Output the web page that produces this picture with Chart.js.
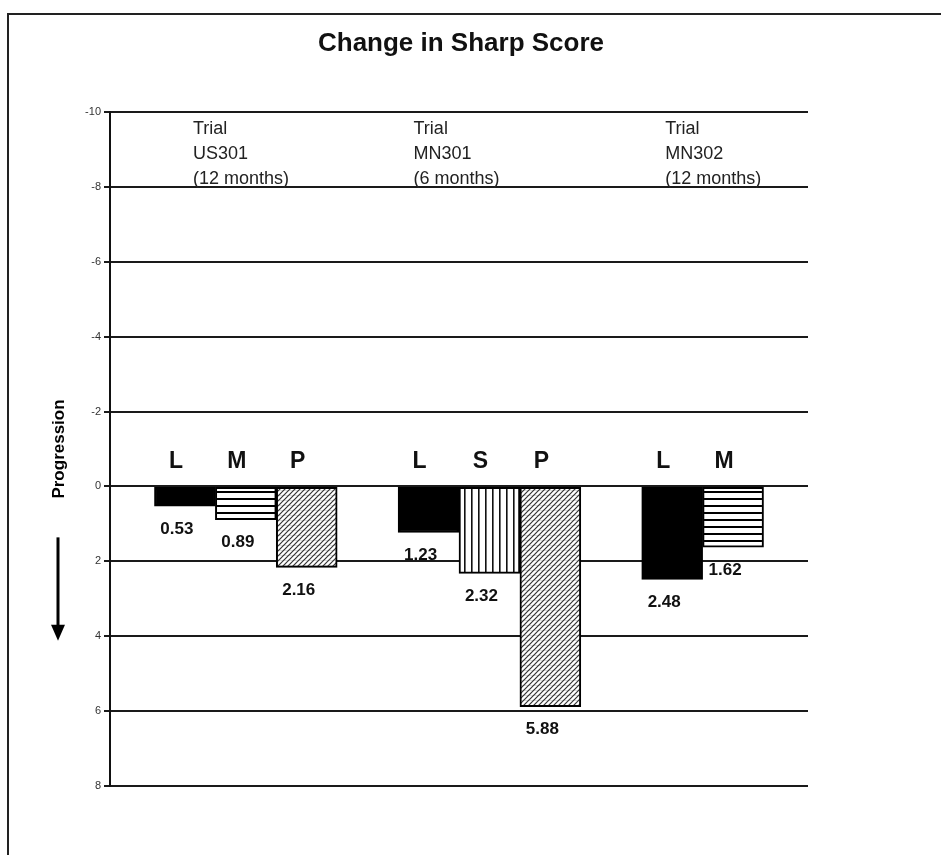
<!DOCTYPE html>
<html>
<head>
<meta charset="utf-8">
<script src="https://cdn.jsdelivr.net/npm/chart.js@4"></script>
<style>
  body { margin: 0; background: #fff; }
  #frame {
    position: absolute; left: 7px; top: 13px; width: 934px; height: 842px;
    border-top: 2px solid #222; border-left: 2px solid #222;
  }
  #wrap { position: relative; width: 902px; height: 840px; }
</style>
</head>
<body>
<div id="frame"><div id="wrap"><canvas id="chart"></canvas></div></div>
<script>
// data
const chartTitle = "Change in Sharp Score";
const barLabels = ["L", "M", "P", "", "L", "S", "P", "", "L", "M"];
const barValues = [0.53, 0.89, 2.16, null, 1.23, 2.32, 5.88, null, 2.48, 1.62];
const yTicks = [-10, -8, -6, -4, -2, 0, 2, 4, 6, 8];
const trialTitles = ["Trial", "Trial", "Trial"];
const trialCodes = ["US301", "MN301", "MN302"];
const trialDurations = ["(12 months)", "(6 months)", "(12 months)"];
const trialFirstSlot = [0, 4, 8];

const FONT = 'Arial, "Liberation Sans", sans-serif';

// fill patterns
function makePattern(size, draw) {
  const c = document.createElement("canvas");
  c.width = size; c.height = size;
  const g = c.getContext("2d");
  g.fillStyle = "#fff";
  g.fillRect(0, 0, size, size);
  draw(g, size);
  return g.createPattern(c, "repeat");
}

const fills = {
  L: "#000",
  M: makePattern(7, (g, s) => { g.fillStyle = "#000"; g.fillRect(0, 0, s, 2); }),
  S: makePattern(7, (g, s) => { g.fillStyle = "#111"; g.fillRect(0, 0, 1.6, s); }),
  P: makePattern(5, (g, s) => {
    g.fillStyle = "#ddd";
    g.fillRect(0, 0, s, 1);
    g.strokeStyle = "#333";
    g.lineWidth = 1.2;
    g.beginPath();
    g.moveTo(-1, s + 1); g.lineTo(s + 1, -1);
    g.moveTo(-1, 1); g.lineTo(1, -1);
    g.moveTo(s - 1, s + 1); g.lineTo(s + 1, s - 1);
    g.stroke();
  }),
};

const points = [];
const colors = [];
barValues.forEach((v, i) => {
  if (v === null) return;
  points.push({ x: i, y: v, label: barLabels[i] });
  colors.push(fills[barLabels[i]]);
});

// title, labels, trial notes, arrow
const annotate = {
  id: "annotate",
  afterDatasetsDraw(chart, args, opts) {
    const ctx = chart.ctx;
    const area = chart.chartArea;
    const xs = chart.scales.x;
    const ys = chart.scales.y;
    const zero = ys.getPixelForValue(0);
    const meta = chart.getDatasetMeta(0);
    ctx.save();
    ctx.fillStyle = "#111";
    ctx.textAlign = "center";
    ctx.textBaseline = "alphabetic";
    ctx.font = "bold 26px " + FONT;
    ctx.fillText(chartTitle, (area.left + area.right) / 2 + 2, 36);

    ctx.textBaseline = "middle";
    meta.data.forEach((bar, i) => {
      const p = points[i];
      ctx.font = "bold 23px " + FONT;
      ctx.fillText(p.label, bar.x - 9, zero - 25);
      ctx.font = "bold 17px " + FONT;
      ctx.fillText(p.y.toFixed(2), bar.x - 8, bar.y + 23);
    });

    // trial notes
    ctx.textAlign = "left";
    ctx.font = "18px " + FONT;
    ctx.fillStyle = "#222";
    trialFirstSlot.forEach((slot, g) => {
      const x = xs.getPixelForValue(slot) + opts.noteOffsets[g];
      ctx.fillText(trialTitles[g], x, area.top + 17);
      ctx.fillText(trialCodes[g], x, area.top + 42);
      ctx.fillText(trialDurations[g], x, area.top + 67);
    });

    // progression arrow
    const ax = 49;
    const y1 = ys.getPixelForValue(1.36);
    const y2 = ys.getPixelForValue(4.12);
    ctx.fillStyle = "#000";
    ctx.fillRect(ax - 1.5, y1, 3, y2 - y1 - 12);
    ctx.beginPath();
    ctx.moveTo(ax - 7, y2 - 16);
    ctx.lineTo(ax + 7, y2 - 16);
    ctx.lineTo(ax, y2);
    ctx.closePath();
    ctx.fill();
    ctx.restore();
  },
};

new Chart(document.getElementById("chart"), {
  type: "bar",
  data: {
    datasets: [
      {
        data: points,
        backgroundColor: colors,
        borderColor: "#000",
        borderWidth: 2,
        borderSkipped: false,
        barPercentage: 1,
        categoryPercentage: 1,
      },
    ],
  },
  options: {
    responsive: true,
    maintainAspectRatio: false,
    animation: false,
    layout: {
      padding: { top: 97, right: 103, bottom: 69, left: 0 },
    },
    scales: {
      x: {
        type: "linear",
        min: -1.23,
        max: 10.23,
        offset: false,
        display: false,
      },
      y: {
        reverse: true,
        min: yTicks[0],
        max: yTicks[yTicks.length - 1],
        afterBuildTicks: (scale) => {
          scale.ticks = yTicks.map((v) => ({ value: v }));
        },
        afterFit: (scale) => {
          scale.width = 101;
        },
        ticks: {
          color: "#333",
          font: { family: FONT, size: 11 },
          padding: 3,
        },
        grid: {
          color: "#1a1a1a",
          lineWidth: 2,
          tickLength: 6,
          tickColor: "#1a1a1a",
        },
        border: { display: true, color: "#111", width: 2 },
        title: {
          display: true,
          text: "Progression",
          color: "#000",
          font: { family: FONT, size: 17, weight: "bold" },
          padding: { top: 40, bottom: 0 },
        },
      },
    },
    plugins: {
      legend: { display: false },
      tooltip: { enabled: false },
      title: { display: false },
      annotate: { noteOffsets: [8, -15, -7] },
    },
  },
  plugins: [annotate],
});
</script>
</body>
</html>
